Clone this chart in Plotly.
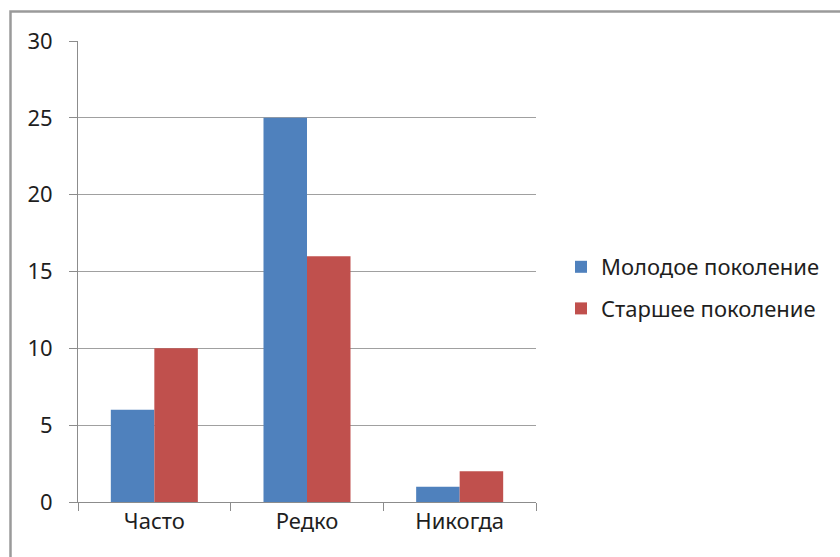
import plotly.graph_objects as go

categories = ["Часто", "Редко", "Никогда"]
young = [6, 25, 1]
old = [10, 16, 2]
series_names = ["Молодое поколение", "Старшее поколение"]
y_ticks = [0, 5, 10, 15, 20, 25, 30]

FONT = "Noto Sans"
fig = go.Figure()
fig.add_trace(go.Bar(x=categories, y=young, name=series_names[0],
                     marker=dict(color="#4F81BD", line=dict(width=0)), legendgroup="a"))
fig.add_trace(go.Bar(x=categories, y=old, name=series_names[1],
                     marker=dict(color="#C0504D", line=dict(width=0)), legendgroup="b"))

L, R, T, B = 78, 536, 41, 502
W, H = R - L, B - T

fig.update_layout(
    width=840, height=557,
    margin=dict(l=L, r=840 - R, t=T, b=557 - B),
    paper_bgcolor="white", plot_bgcolor="white",
    barmode="group", bargap=0.43, bargroupgap=0,
    font=dict(family=FONT, size=22, color="#1e1e1e"),
    showlegend=True,
    legend=dict(x=(561 - L) / W, xanchor="left", y=(B - 288) / H, yanchor="middle",
                font=dict(family=FONT, size=22, color="#1e1e1e"),
                tracegroupgap=10, itemwidth=30, bgcolor="rgba(0,0,0,0)"),
    xaxis=dict(showgrid=False, showline=True, linecolor="#8c8c8c", linewidth=1,
               ticks="outside", tickson="boundaries", ticklen=8, tickcolor="#8c8c8c",
               tickfont=dict(family=FONT, size=22, color="#1e1e1e")),
    yaxis=dict(range=[0, 30], tickvals=y_ticks, showgrid=True, gridcolor="#a0a0a0",
               gridwidth=1, showline=True, linecolor="#8c8c8c", linewidth=1,
               ticks="outside", ticklen=8, tickcolor="#8c8c8c", zeroline=False,
               ticklabelstandoff=12,
               tickfont=dict(family=FONT, size=22, color="#1e1e1e")),
    shapes=[dict(type="rect", xref="paper", yref="paper",
                 x0=(10.5 - L) / W, x1=(860 - L) / W,
                 y0=(B - 580) / H, y1=(B - 11.5) / H,
                 line=dict(color="#9a9a9a", width=2.5), fillcolor="rgba(0,0,0,0)",
                 layer="below")],
)

fig.write_html("out.html")
